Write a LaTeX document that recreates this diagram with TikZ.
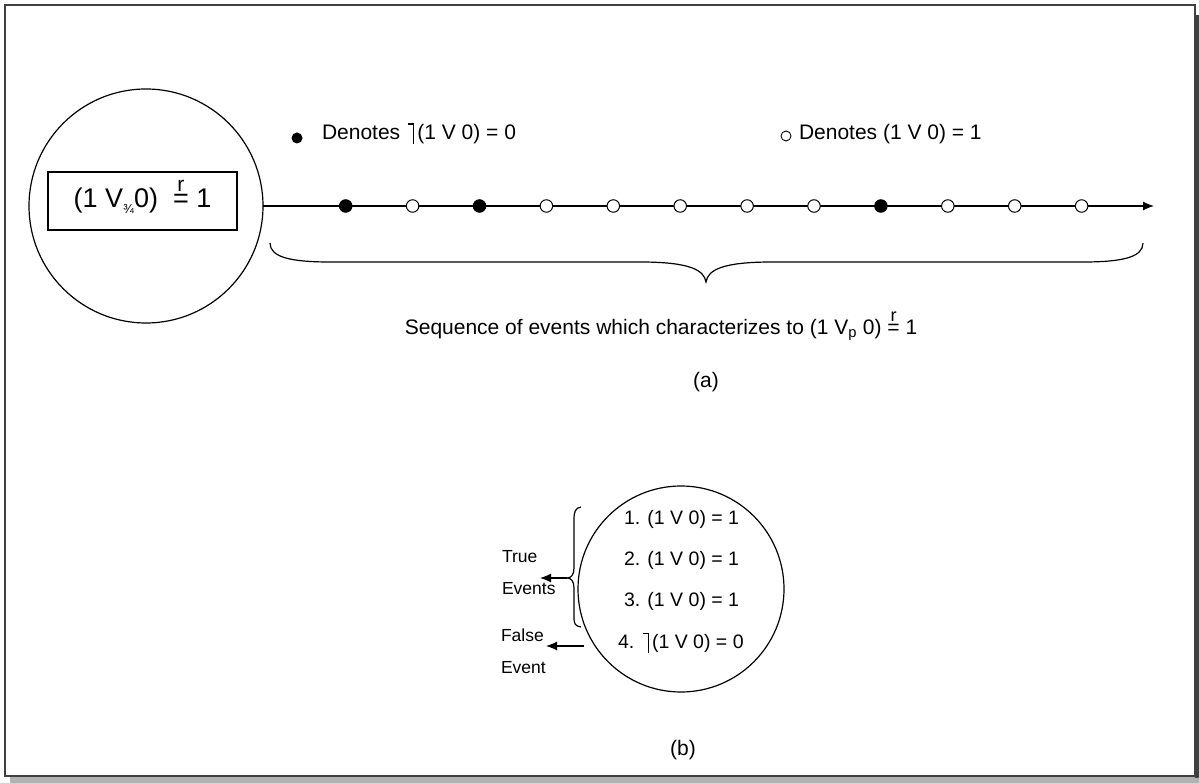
\documentclass[tikz,border=0pt]{standalone}
\usepackage{fontspec}
\setmainfont{Liberation Sans}
\usetikzlibrary{arrows.meta}

% negation sign drawn as a corner: short top bar, long stem
\newcommand\negsign{\mbox{\kern0.08em\rule[0.7em]{0.3em}{0.06em}\kern-0.06em\rule[-0.24em]{0.06em}{1.0em}\kern0.16em}}
% "=" with a small r set above it
\newcommand\requal[1]{\mbox{\ooalign{=\cr\hidewidth\raisebox{0.6em}{\fontsize{#1}{#1}\selectfont r}\hidewidth\cr}}}

\definecolor{framegray}{RGB}{64,64,64}
\definecolor{shadowgray}{RGB}{178,178,178}

\begin{document}
\begin{tikzpicture}[x=1pt,y=-1pt,
  every node/.style={inner sep=0pt, outer sep=0pt},
  txt/.style={font=\fontsize{21}{25}\selectfont},
  itemtxt/.style={font=\fontsize{19.5}{23}\selectfont},
  sidetxt/.style={font=\fontsize{17.5}{21}\selectfont},
  bigtxt/.style={font=\fontsize{27}{31}\selectfont},
  evfalse/.style={circle, draw=black, fill=black, line width=1pt, minimum size=12.5pt},
  evtrue/.style={circle, draw=black, fill=white, line width=1pt, minimum size=12.5pt},
  ring/.style={circle, draw=black, line width=1.2pt},
  wire/.style={line width=1.2pt},
  tip/.style={-{Latex[length=11pt,width=9pt]}}
]
\useasboundingbox (0,0) rectangle (1199,783);

% frame with its shadow
\fill[shadowgray] (10,777) rectangle (1199,783);
\fill[framegray] (1195,15) rectangle (1198.5,778);
\draw[framegray, line width=2pt] (5,5) rectangle (1195,776);

% (a) the outcome circle and the event line
\node[ring, minimum size=234pt] (lc) at (146,206) {};
\node[draw=black, line width=1.2pt, minimum width=189pt, minimum height=58pt, bigtxt]
  (box) at (142.5,201) {(1 V\raisebox{-0.22em}{\fontsize{13}{13}\selectfont ¾}0)\ \ \requal{21} 1};

\coordinate (lineend) at (1154,206);
\draw[wire, tip] (lc.east) -- (lineend);

\foreach \k in {0,...,11} {
  \pgfmathsetmacro\xx{345.7+66.9*\k}
  \ifnum\k=0 \node[evfalse] (d\k) at (\xx,206) {};
  \else\ifnum\k=2 \node[evfalse] (d\k) at (\xx,206) {};
  \else\ifnum\k=8 \node[evfalse] (d\k) at (\xx,206) {};
  \else \node[evtrue] (d\k) at (\xx,206) {};
  \fi\fi\fi
}

% legend
\node[circle, fill=black, minimum size=11pt] (lf) at (297,138) {};
\node[txt, anchor=west] (lft) at (322,134) {Denotes \negsign(1 V 0) = 0};
\node[circle, draw=black, line width=0.9pt, minimum size=10pt] (lt) at (786,136) {};
\node[txt, anchor=west] (ltt) at (799,134) {Denotes (1 V 0) = 1};

% brace under the event line
\draw[line width=1.2pt]
  (270,243) .. controls (270,257) and (290,262) .. (330,262)
  -- (640,262) .. controls (690,262) and (704,270) .. (706,282)
  .. controls (708,270) and (722,262) .. (772,262)
  -- (1083,262) .. controls (1123,262) and (1143,257) .. (1143,243);

\node[txt] (seq) at (661,330) {Sequence of events which characterizes to (1 V\textsubscript{p} 0) \requal{18} 1};
\node[txt] (capa) at (706,382) {(a)};

% (b) the four events
\node[ring, minimum size=206pt] (bc) at (681,589) {};
\node[itemtxt, anchor=west] (e1) at (624,519) {1. (1 V 0) = 1};
\node[itemtxt, anchor=west] (e2) at (624,560) {2. (1 V 0) = 1};
\node[itemtxt, anchor=west] (e3) at (624,601) {3. (1 V 0) = 1};
\node[itemtxt, anchor=west] (e4) at (618,643) {4. \negsign(1 V 0) = 0};

\node[sidetxt, anchor=west, align=left] (te) at (502,573) {True\\[11pt]Events};
\node[sidetxt, anchor=west, align=left] (fe) at (501,651) {False\\[11pt]Event};

\coordinate (btip) at (567,578);
\draw[line width=1.2pt]
  (581,507) .. controls (575,508) and (574,512) .. (574,520)
  -- (574,568) .. controls (574,575) and (571,578) .. (btip)
  .. controls (571,578) and (574,581) .. (574,588)
  -- (574,617) .. controls (574,624) and (575,626) .. (581,627);
\coordinate (tarr) at (540,578);
\draw[wire, tip] (btip) -- (tarr);

\coordinate (fstart) at (584,646);
\coordinate (farr) at (546,646);
\draw[wire, tip] (fstart) -- (farr);

\node[txt] (capb) at (683,750) {(b)};
\end{tikzpicture}
\end{document}
